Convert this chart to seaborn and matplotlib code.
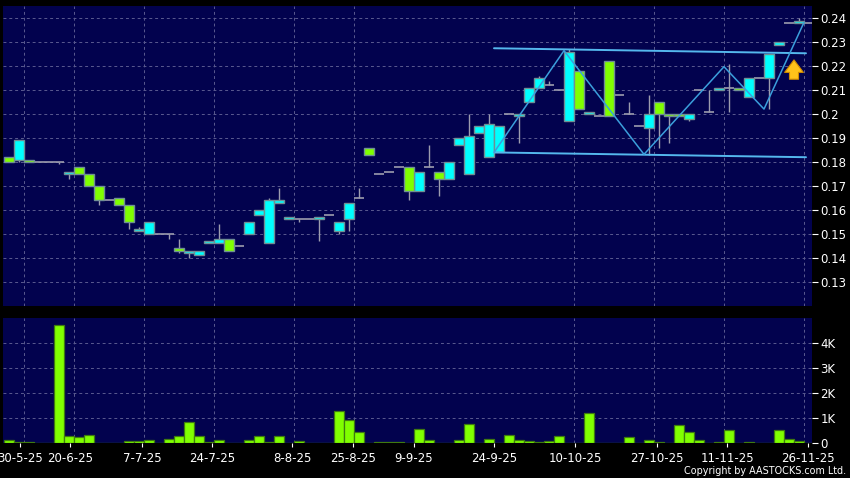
import numpy as np
import matplotlib
matplotlib.use("Agg")
import matplotlib.pyplot as plt
import seaborn as sns

# daily slots (one per trading day shown on the chart)
slots = list(range(81))
opens = [0.182, 0.181, 0.181, 0.180, 0.180, 0.180, 0.175, 0.178, 0.175, 0.170,
         0.164, 0.165, 0.162, 0.151, 0.150, 0.150, 0.150, 0.144, 0.142, 0.141,
         0.146, 0.146, 0.148, 0.145, 0.150, 0.158, 0.146, 0.163, 0.156, 0.156,
         0.156, 0.156, 0.158, 0.151, 0.156, 0.165, 0.186, 0.175, 0.176, 0.178,
         0.178, 0.168, 0.178, 0.176, 0.173, 0.187, 0.175, 0.192, 0.182, 0.184,
         0.200, 0.199, 0.205, 0.211, 0.212, 0.210, 0.197, 0.218, 0.200, 0.199,
         0.222, 0.208, 0.200, 0.195, 0.194, 0.205, 0.200, 0.200, 0.198, 0.210,
         0.201, 0.210, 0.211, 0.211, 0.207, 0.215, 0.215, 0.229, 0.238, 0.238,
         0.238]
highs = [0.182, 0.189, 0.181, 0.180, 0.180, 0.180, 0.176, 0.178, 0.175, 0.170,
         0.164, 0.165, 0.162, 0.153, 0.155, 0.150, 0.150, 0.148, 0.143, 0.143,
         0.147, 0.154, 0.148, 0.145, 0.155, 0.160, 0.165, 0.169, 0.157, 0.156,
         0.156, 0.157, 0.158, 0.155, 0.163, 0.169, 0.186, 0.175, 0.176, 0.178,
         0.178, 0.176, 0.187, 0.176, 0.180, 0.190, 0.200, 0.195, 0.200, 0.195,
         0.200, 0.200, 0.211, 0.216, 0.214, 0.210, 0.227, 0.218, 0.201, 0.199,
         0.222, 0.208, 0.205, 0.195, 0.208, 0.205, 0.200, 0.200, 0.200, 0.210,
         0.210, 0.211, 0.221, 0.211, 0.215, 0.215, 0.225, 0.230, 0.238, 0.240,
         0.238]
lows = [0.180, 0.180, 0.180, 0.180, 0.180, 0.179, 0.173, 0.175, 0.170, 0.162,
        0.164, 0.162, 0.152, 0.151, 0.150, 0.150, 0.148, 0.142, 0.140, 0.141,
        0.146, 0.146, 0.143, 0.145, 0.150, 0.158, 0.146, 0.163, 0.156, 0.155,
        0.156, 0.147, 0.158, 0.150, 0.151, 0.165, 0.183, 0.175, 0.176, 0.178,
        0.164, 0.168, 0.178, 0.166, 0.173, 0.187, 0.175, 0.192, 0.182, 0.184,
        0.200, 0.188, 0.205, 0.211, 0.212, 0.210, 0.197, 0.202, 0.200, 0.199,
        0.199, 0.208, 0.200, 0.195, 0.183, 0.186, 0.188, 0.199, 0.197, 0.210,
        0.201, 0.210, 0.201, 0.210, 0.207, 0.215, 0.202, 0.229, 0.238, 0.238,
        0.238]
closes = [0.180, 0.189, 0.180, 0.180, 0.180, 0.180, 0.176, 0.175, 0.170, 0.164,
          0.164, 0.162, 0.155, 0.152, 0.155, 0.150, 0.150, 0.143, 0.143, 0.143,
          0.147, 0.148, 0.143, 0.145, 0.155, 0.160, 0.164, 0.164, 0.157, 0.156,
          0.156, 0.157, 0.158, 0.155, 0.163, 0.165, 0.183, 0.175, 0.176, 0.178,
          0.168, 0.176, 0.178, 0.173, 0.180, 0.190, 0.191, 0.195, 0.196, 0.195,
          0.200, 0.200, 0.211, 0.215, 0.212, 0.210, 0.226, 0.202, 0.201, 0.199,
          0.199, 0.208, 0.200, 0.195, 0.200, 0.200, 0.199, 0.199, 0.200, 0.210,
          0.201, 0.211, 0.211, 0.210, 0.215, 0.215, 0.225, 0.230, 0.238, 0.239,
          0.238]
volumes = [130, 60, 50, 0, 0, 4730, 300, 270, 320, 10,
           0, 10, 80, 80, 130, 0, 190, 280, 840, 300,
           50, 130, 0, 0, 130, 290, 70, 290, 0, 100,
           0, 25, 0, 1300, 930, 440, 0, 40, 65, 40,
           25, 590, 130, 25, 25, 150, 770, 0, 160, 0,
           320, 150, 80, 55, 95, 290, 0, 0, 1220, 0,
           0, 0, 240, 25, 150, 40, 0, 750, 440, 120,
           0, 65, 520, 0, 40, 0, 0, 520, 190, 95,
           0]

date_labels = ["30-5-25", "20-6-25", "7-7-25", "24-7-25", "8-8-25", "25-8-25",
               "9-9-25", "24-9-25", "10-10-25", "27-10-25", "11-11-25", "26-11-25"]
date_slots = [1.1, 6.1, 13.3, 20.3, 28.3, 34.4, 40.5, 48.5, 56.6, 64.8, 71.8, 79.9]
grid_slots = [1.5, 6.5, 13.5, 20.5, 28.5, 34.5, 40.5, 48.5, 56.5, 64.5, 71.5, 79.5]

# drawn trend lines (slot, price)
upper_x = [48.5, 79.7]
upper_y = [0.2275, 0.2254]
lower_x = [48.5, 79.7]
lower_y = [0.1840, 0.1820]
zigzag_x = [48.5, 55.5, 63.5, 71.5, 75.5, 79.5]
zigzag_y = [0.1840, 0.2265, 0.1832, 0.2198, 0.2021, 0.2383]

price_ticks = [0.13, 0.14, 0.15, 0.16, 0.17, 0.18, 0.19, 0.20, 0.21, 0.22, 0.23, 0.24]
vol_ticks = [0, 1000, 2000, 3000, 4000]
vol_labels = ["0", "1K", "2K", "3K", "4K"]

sns.set_style("dark")
plt.rcParams['font.family'] = ['DejaVu Sans']

bg = '#02024e'
grid_c = '#5a5a90'
up_c = '#00ffff'
down_c = '#80ff00'
edge_c = '#6f8f94'
wick_c = '#9c9cae'

fig = plt.figure(figsize=(8.5, 4.78), dpi=100, facecolor='black')
ax = fig.add_axes([3 / 850, 1 - 306 / 478, 809 / 850, 300 / 478])
axv = fig.add_axes([3 / 850, 1 - 443.3 / 478, 809 / 850, 125.3 / 478])

o = np.array(opens)
h = np.array(highs)
l = np.array(lows)
c = np.array(closes)
x = np.array(slots)

for a in (ax, axv):
    a.set_facecolor(bg)
    a.set_xlim(-0.6, 80.3)
    a.set_xticks(grid_slots, minor=True)
    a.grid(False)
    a.grid(True, which='minor', axis='x', color=grid_c, linestyle=(0, (3, 3)), linewidth=0.7)
    a.grid(True, which='major', axis='y', color=grid_c, linestyle=(0, (3, 3)), linewidth=0.7)
    a.tick_params(axis='x', which='minor', bottom=False, top=False)
    for s in a.spines.values():
        s.set_visible(False)
    a.yaxis.tick_right()
    a.tick_params(axis='y', colors='white', labelsize=8.5, length=4, width=0.8,
                  pad=2, right=True, left=False)
    a.set_axisbelow(True)

# price panel
ax.set_ylim(0.11987, 0.24514)
ax.set_yticks(price_ticks)
ax.set_yticklabels([f"{v:g}" for v in price_ticks])
ax.set_xticks(date_slots)
ax.tick_params(axis='x', which='major', bottom=False, labelbottom=False)

ax.vlines(x, l, h, color=wick_c, linewidth=1.0, zorder=2)
doji = o == c
ax.hlines(c[doji], x[doji] - 0.5, x[doji] + 0.5, color=wick_c, linewidth=1.2, zorder=3)
up = c > o
dn = c < o
ax.bar(x[up], c[up] - o[up], bottom=o[up], width=0.95, color=up_c,
       edgecolor=edge_c, linewidth=1.0, zorder=4)
ax.bar(x[dn], c[dn] - o[dn], bottom=o[dn], width=0.95, color=down_c,
       edgecolor=edge_c, linewidth=1.0, zorder=4)

line_c = '#55b8ee'
sns.lineplot(x=upper_x, y=upper_y, ax=ax, color=line_c, linewidth=1.4, zorder=5)
sns.lineplot(x=lower_x, y=lower_y, ax=ax, color=line_c, linewidth=1.4, zorder=5)
sns.lineplot(x=zigzag_x, y=zigzag_y, ax=ax, color='#3b9fdc', linewidth=1.1,
             sort=False, estimator=None, zorder=5)
ax.set_xlabel("")
ax.set_ylabel("")

ax.annotate("", xy=(78.5, 0.2238), xytext=(78.5, 0.2134),
            arrowprops=dict(arrowstyle="simple,head_width=1.35,head_length=0.9,tail_width=0.65",
                            fc='#ffc21a', ec='#d08a00', lw=0.8), zorder=6)

# volume panel
sns.barplot(x=x, y=volumes, ax=axv, native_scale=True, color=down_c,
            edgecolor='#3f7a10', linewidth=0.9, width=0.95, saturation=1, zorder=3)
axv.set_xlim(-0.6, 80.3)
axv.set_ylim(0, 5000)
axv.set_yticks(vol_ticks)
axv.set_yticklabels(vol_labels)
axv.set_xticks(date_slots)
axv.set_xticklabels(date_labels)
axv.tick_params(axis='x', which='major', colors='white', labelsize=8.5, length=3,
                width=0.8, pad=3, bottom=True)
axv.set_xlabel("")
axv.set_ylabel("")

fig.text(0.995, 1 - 471 / 478, "Copyright by AASTOCKS.com Ltd.", ha='right',
         va='center', color='white', fontsize=6.9)

fig.savefig("out.png", dpi=100, facecolor='black')
